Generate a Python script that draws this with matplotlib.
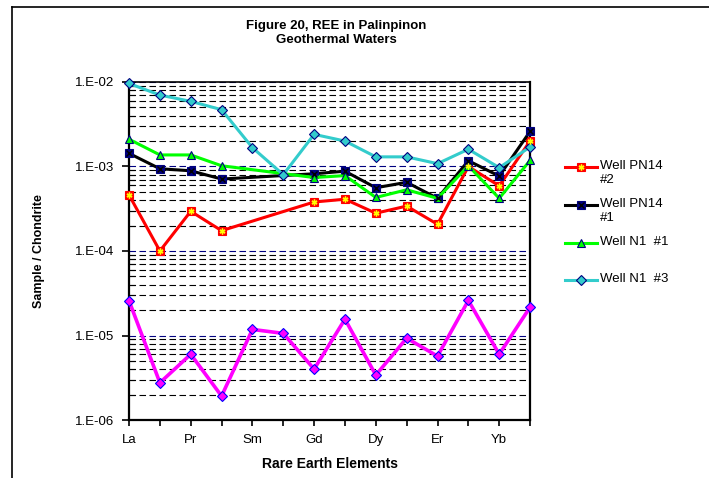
import numpy as np
import matplotlib.pyplot as plt
from matplotlib.lines import Line2D
from matplotlib.ticker import FixedLocator, FuncFormatter, LogLocator, NullFormatter

plt.rcParams['font.family'] = ['Liberation Sans', 'DejaVu Sans']
plt.rcParams['lines.scale_dashes'] = False

nan = np.nan

# REE normalised to chondrite
elements = ['La', 'Ce', 'Pr', 'Nd', 'Sm', 'Eu', 'Gd', 'Tb', 'Dy', 'Ho', 'Er', 'Tm', 'Yb', 'Lu']
shown_labels = ['La', '', 'Pr', '', 'Sm', '', 'Gd', '', 'Dy', '', 'Er', '', 'Yb', '']

pn14_2 = [4.6e-4, 1.0e-4, 2.95e-4, 1.74e-4, nan, nan, 3.8e-4, 4.1e-4, 2.8e-4, 3.4e-4, 2.07e-4, 1.0e-3, 5.9e-4, 2.0e-3]
pn14_1 = [1.43e-3, 9.4e-4, 8.9e-4, 7.1e-4, nan, nan, 8.2e-4, 8.8e-4, 5.6e-4, 6.5e-4, 4.2e-4, 1.17e-3, 7.7e-4, 2.6e-3]
n1_1 = [2.1e-3, 1.37e-3, 1.37e-3, 1.02e-3, nan, nan, 7.4e-4, 7.8e-4, 4.3e-4, 5.3e-4, 4.2e-4, 1.02e-3, 4.2e-4, 1.18e-3]
n1_3 = [9.6e-3, 7.0e-3, 5.9e-3, 4.7e-3, 1.67e-3, 8.0e-4, 2.4e-3, 2.0e-3, 1.3e-3, 1.3e-3, 1.08e-3, 1.6e-3, 9.7e-4, 1.7e-3]
other = [2.58e-5, 2.76e-6, 6.0e-6, 1.92e-6, 1.18e-5, 1.06e-5, 4.0e-6, 1.56e-5, 3.4e-6, 9.3e-6, 5.7e-6, 2.6e-5, 6.0e-6, 2.16e-5]

# (values, label, line colour, marker, face, edge, overlay marker, overlay colour)
series = [
    (pn14_2, 'Well PN14\n#2', '#FF0000', 's', '#FF0000', '#FF0000', (6, 2, 0), '#FFFF00'),
    (pn14_1, 'Well PN14\n#1', '#000000', 's', '#000080', '#000080', 'x', '#000000'),
    (n1_1, 'Well N1  #1', '#00FF00', '^', '#00FF00', '#000080', None, None),
    (n1_3, 'Well N1  #3', '#33CCCC', 'D', '#33CCCC', '#000080', None, None),
]

fig = plt.figure(figsize=(7.09, 4.78), dpi=100)
ax = fig.add_axes([0.182, 0.1213, 0.5656, 0.7072])

x = np.arange(len(elements))

# magenta series drawn first, not in the legend
yo = np.array(other)
ax.plot(x, yo, color='#FF00FF', lw=2.6, marker='D', ms=5.5, mfc='#FF00FF', mec='#0000FF',
        mew=0.8, zorder=3, clip_on=False)

for vals, label, col, mk, fc, ec, ov, ovc in series:
    y = np.array(vals)
    ok = np.isfinite(y)
    ax.plot(x[ok], y[ok], color=col, lw=2.2, marker=mk, ms=5.5, mfc=fc, mec=ec, mew=0.8,
            zorder=4, clip_on=False)
    if ov is not None:
        ax.plot(x[ok], y[ok], ls='none', marker=ov, ms=4.2, color=ovc, mew=1.0, zorder=5,
                clip_on=False)

ax.set_yscale('log')
ax.set_ylim(1e-6, 1e-2)
ax.set_xlim(0, len(elements) - 1)

ax.xaxis.set_major_locator(FixedLocator(x))
ax.set_xticklabels(shown_labels, fontsize=9.5)
ax.yaxis.set_major_locator(LogLocator(base=10, numticks=10))
ax.yaxis.set_major_formatter(FuncFormatter(lambda v, p: '1.E-%02d' % round(-np.log10(v))))
ax.yaxis.set_minor_locator(LogLocator(base=10, subs=np.arange(2, 10), numticks=10))
ax.yaxis.set_minor_formatter(NullFormatter())

ax.tick_params(axis='y', which='major', direction='out', length=5, width=1.2, pad=6, labelsize=9.5)
ax.tick_params(axis='y', which='minor', direction='in', length=4, width=0.8)
ax.tick_params(axis='x', direction='out', length=4, width=1.2, pad=6)

ax.grid(True, which='major', axis='y', color='#000080', lw=0.8, ls=(0, (4.7, 2.5)))
ax.grid(True, which='minor', axis='y', color='#000000', lw=0.8, ls=(0, (4.7, 2.5)))
ax.set_axisbelow(True)

for side in ['left', 'bottom', 'right']:
    ax.spines[side].set_linewidth(1.6)
ax.spines['top'].set_linewidth(1.2)

ax.set_xlabel('Rare Earth Elements', fontsize=10, fontweight='bold', labelpad=8)
ax.set_ylabel('Sample / Chondrite', fontsize=9, fontweight='bold', labelpad=21)

fig.text(0.474, 0.958, 'Figure 20, REE in Palinpinon\nGeothermal Waters', ha='center', va='top',
         fontsize=9.5, fontweight='bold', linespacing=1.25)

# legend entries
leg_y = [167, 205, 243, 280]
W, H = 709.0, 478.0
for (vals, label, col, mk, fc, ec, ov, ovc), py in zip(series, leg_y):
    fy = 1 - py / H
    fig.add_artist(Line2D([565 / W, 597 / W], [fy, fy], color=col, lw=2.2))
    fig.add_artist(Line2D([581 / W], [fy], marker=mk, ms=5.5, mfc=fc, mec=ec, mew=0.8))
    if ov is not None:
        fig.add_artist(Line2D([581 / W], [fy], marker=ov, ms=4.2, color=ovc, mew=1.0))
    fig.text(600 / W, 1 - (py - 7) / H, label, ha='left', va='top', fontsize=9.5, linespacing=1.2)

# outer chart frame
fig.add_artist(Line2D([12 / W, 1.0], [1 - 7 / H, 1 - 7 / H], color='#000000', lw=1.2))
fig.add_artist(Line2D([12 / W, 12 / W], [0.0, 1 - 7 / H], color='#000000', lw=1.2))

fig.savefig('out.png', dpi=100)
